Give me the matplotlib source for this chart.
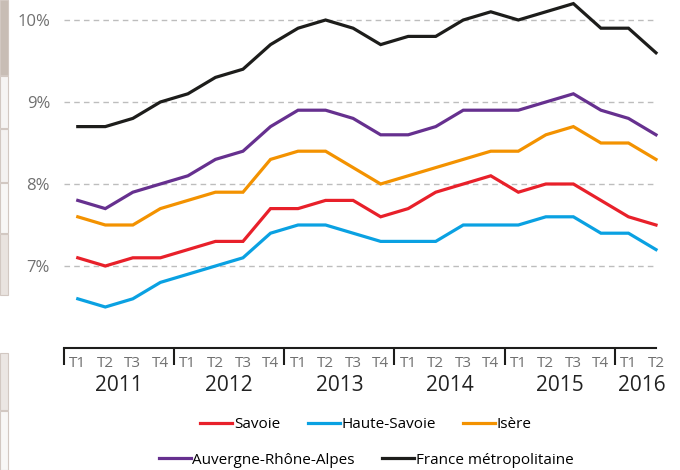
import matplotlib
matplotlib.use("Agg")
import matplotlib.pyplot as plt
import matplotlib.patches as patches
from matplotlib.lines import Line2D

plt.rcParams['font.family'] = ['Open Sans', 'DejaVu Sans']

# quarterly unemployment rate (%), 2011 T1 -> 2016 T2
years = ['2011', '2012', '2013', '2014', '2015', '2016']
quarters = ['T1', 'T2', 'T3', 'T4'] * 5 + ['T1', 'T2']

savoie = [7.1, 7.0, 7.1, 7.1, 7.2, 7.3, 7.3, 7.7, 7.7, 7.8, 7.8,
          7.6, 7.7, 7.9, 8.0, 8.1, 7.9, 8.0, 8.0, 7.8, 7.6, 7.5]
haute_savoie = [6.6, 6.5, 6.6, 6.8, 6.9, 7.0, 7.1, 7.4, 7.5, 7.5, 7.4,
                7.3, 7.3, 7.3, 7.5, 7.5, 7.5, 7.6, 7.6, 7.4, 7.4, 7.2]
isere = [7.6, 7.5, 7.5, 7.7, 7.8, 7.9, 7.9, 8.3, 8.4, 8.4, 8.2,
         8.0, 8.1, 8.2, 8.3, 8.4, 8.4, 8.6, 8.7, 8.5, 8.5, 8.3]
ara = [7.8, 7.7, 7.9, 8.0, 8.1, 8.3, 8.4, 8.7, 8.9, 8.9, 8.8,
       8.6, 8.6, 8.7, 8.9, 8.9, 8.9, 9.0, 9.1, 8.9, 8.8, 8.6]
france = [8.7, 8.7, 8.8, 9.0, 9.1, 9.3, 9.4, 9.7, 9.9, 10.0, 9.9,
          9.7, 9.8, 9.8, 10.0, 10.1, 10.0, 10.1, 10.2, 9.9, 9.9, 9.6]

series = [
    ('Savoie', savoie, '#e8202a'),
    ('Haute-Savoie', haute_savoie, '#0aa1e2'),
    ('Isère', isere, '#f39200'),
    ('Auvergne-Rhône-Alpes', ara, '#66308f'),
    ('France métropolitaine', france, '#1d1d1b'),
]

fig = plt.figure(figsize=(6.8, 4.7), dpi=100)

# bits of the page layout visible on the left edge
panels = [(0, 75, '#c8bdb5'), (76, 128, '#f6f4f3'), (129, 182, '#f4f2f1'),
          (183, 233, '#f8f7f6'), (234, 295, '#e9e3df'),
          (353, 410, '#ebe6e3'), (411, 470, '#f8f7f6')]
for top, bottom, col in panels:
    fig.patches.append(patches.Rectangle(
        (0, 1 - bottom / 470), 8 / 680, (bottom - top) / 470,
        transform=fig.transFigure, facecolor=col, edgecolor='#d2c8c2',
        linewidth=0.8, zorder=0))

ax = fig.add_axes([64 / 680, 1 - 348 / 470, 592 / 680, 348 / 470])
ax.patch.set_alpha(0)

x = list(range(len(quarters)))
for name, vals, col in series:
    ax.plot(x, vals, color=col, lw=2.3, solid_joinstyle='miter', clip_on=False)

ax.set_xlim(-0.5, 21)
ax.set_ylim(6, 10 + 20 / 82)

# y axis
ax.set_yticks([7, 8, 9, 10])
ax.set_yticklabels(['7%', '8%', '9%', '10%'])
ax.tick_params(axis='y', length=0, pad=10, labelsize=12, labelcolor='#707070')
ax.grid(axis='y', color='#bdbdbd', lw=1, linestyle=(0, (4, 3)))
ax.set_axisbelow(True)

# x axis: year separators + quarter and year labels
ax.set_xticks([-0.5 + 4 * i for i in range(6)])
ax.set_xticklabels([])
ax.tick_params(axis='x', length=12, width=1.5, color='#1d1d1b', direction='out')
for i, q in enumerate(quarters):
    ax.annotate(q, (i, 0), xycoords=('data', 'axes fraction'),
                xytext=(0, -11), textcoords='offset points',
                ha='center', va='center', fontsize=11, color='#707070')
for k, yr in enumerate(years):
    xc = 1.5 + 4 * k if k < 5 else 20.5
    ax.annotate(yr, (xc, 0), xycoords=('data', 'axes fraction'),
                xytext=(0, -27), textcoords='offset points',
                ha='center', va='center', fontsize=15, color='#222222')

for s in ['top', 'right', 'left']:
    ax.spines[s].set_visible(False)
ax.spines['bottom'].set_linewidth(1.5)
ax.spines['bottom'].set_color('#1d1d1b')

# legend: two centered rows
def handles(items):
    return [Line2D([], [], color=c, lw=2.3) for _, _, c in items]

row1 = series[:3]
row2 = series[3:]
kw = dict(frameon=False, fontsize=11, handlelength=2.1, handletextpad=0.1,
          loc='center', borderaxespad=0)
fig.legend(handles(row1), [n for n, _, _ in row1], ncol=3, columnspacing=1.8,
           bbox_to_anchor=(366 / 680, 1 - 425 / 470), **kw)
fig.legend(handles(row2), [n for n, _, _ in row2], ncol=2, columnspacing=1.8,
           bbox_to_anchor=(366 / 680, 1 - 460 / 470), **kw)

fig.savefig('out.png', dpi=100)
